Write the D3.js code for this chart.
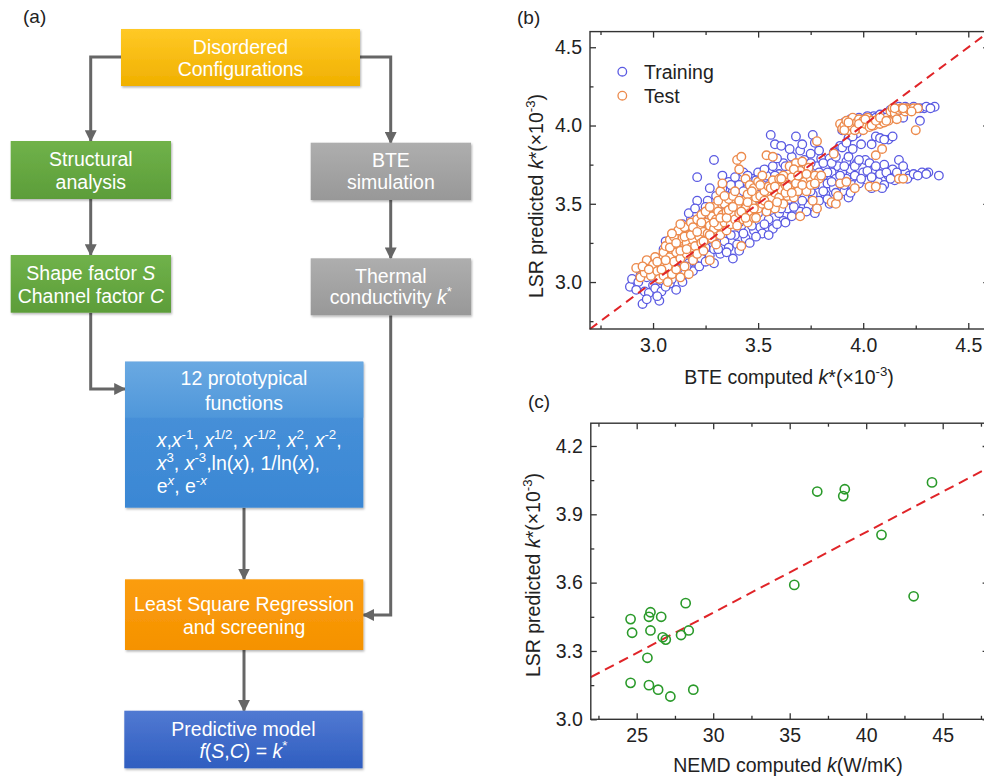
<!DOCTYPE html>
<html>
<head>
<meta charset="utf-8">
<script src="https://cdn.jsdelivr.net/npm/d3@7"></script>
<style>
  body { margin: 0; background: #fff; }
  svg text { font-family: "Liberation Sans", Arial, sans-serif; }
</style>
</head>
<body>
<div id="chart"></div>
<script>
// ---------- data ----------
// panel (b): BTE computed k* vs LSR predicted k* (x1e-3)
const trainPts = [
  [2.89,2.97],[2.90,3.02],[2.93,3.00],[2.95,2.86],[2.96,2.94],[2.97,3.03],[2.98,2.93],[2.99,3.07],[3.00,2.98],[3.00,3.10],
  [3.01,2.96],[3.02,3.04],[3.03,2.88],[3.04,2.94],[3.04,3.01],[3.05,3.21],[3.05,3.13],[3.06,3.08],[3.07,3.17],[3.08,2.99],
  [3.08,3.24],[3.09,3.10],[3.10,3.04],[3.10,3.20],[3.11,2.95],[3.12,3.14],[3.12,3.27],
  [3.13,3.08],[3.13,3.32],[3.14,3.19],[3.15,3.05],[3.15,3.24],[3.16,3.35],[3.17,3.12],[3.17,3.29],[3.18,3.18],[3.18,3.40],
  [3.19,3.07],[3.19,3.24],[3.20,3.33],[3.20,3.13],[3.21,3.67],[3.21,3.52],[3.21,3.28],
  [3.22,3.20],[3.22,3.38],[3.23,3.15],[3.24,3.44],[3.24,3.29],[3.25,3.22],[3.26,3.52],[3.26,3.35],[3.27,3.17],[3.27,3.42],
  [3.28,3.27],[3.28,3.48],[3.29,3.78],[3.29,3.21],[3.30,3.38],[3.30,3.55],[3.31,3.30],
  [3.32,3.18],[3.32,3.45],[3.33,3.60],[3.34,3.26],[3.34,3.51],[3.35,3.37],[3.36,3.64],[3.36,3.22],[3.37,3.44],[3.38,3.15],
  [3.38,3.58],[3.39,3.30],[3.39,3.67],[3.40,3.48],[3.40,3.24],[3.41,3.62],
  [3.42,3.36],[3.42,3.55],[3.43,3.70],[3.44,3.28],[3.44,3.45],[3.45,3.60],[3.46,3.25],[3.46,3.40],[3.47,3.66],[3.48,3.52],
  [3.48,3.33],[3.49,3.58],[3.50,3.44],[3.50,3.70],[3.51,3.35],
  [3.52,3.31],[3.52,3.62],[3.53,3.48],[3.54,3.68],[3.55,3.40],[3.55,3.57],[3.56,3.94],[3.57,3.34],[3.57,3.74],[3.58,3.50],
  [3.58,3.88],[3.59,3.63],[3.60,3.44],[3.60,3.69],[3.61,3.87],[3.61,3.55],
  [3.62,3.39],[3.62,3.76],[3.63,3.61],[3.64,3.47],[3.64,3.70],[3.65,3.53],[3.66,3.80],[3.66,3.42],[3.67,3.64],[3.68,3.93],
  [3.68,3.50],[3.69,3.73],[3.69,3.58],[3.70,3.45],[3.70,3.84],[3.71,3.66],
  [3.72,3.54],[3.72,3.78],[3.73,3.60],[3.74,3.49],[3.74,3.71],[3.75,3.82],[3.76,3.94],[3.76,3.56],[3.77,3.44],[3.77,3.89],
  [3.78,3.65],[3.78,3.74],[3.79,3.52],[3.80,3.62],[3.80,3.79],
  [3.81,3.68],[3.82,3.56],[3.82,3.74],[3.83,3.63],[3.84,3.79],[3.84,3.50],[3.85,3.70],[3.86,3.60],[3.86,3.83],[3.87,3.66],
  [3.88,3.74],[3.88,3.55],[3.89,3.87],[3.89,3.63],[3.90,3.70],[3.90,3.97],
  [3.91,4.02],[3.91,3.58],[3.92,3.77],[3.92,3.66],[3.93,3.54],[3.93,3.92],[3.94,4.04],[3.94,3.72],[3.95,3.85],[3.95,3.62],
  [3.96,4.01],[3.96,3.68],[3.97,3.95],[3.97,3.76],[3.98,4.05],[3.98,3.63],[3.99,3.88],[4.00,3.99],[4.00,3.70],
  [4.01,4.04],[4.01,3.78],[4.02,3.65],[4.03,3.76],[4.03,4.02],[4.04,3.60],[4.05,4.06],[4.05,3.72],[4.06,3.93],[4.07,3.64],
  [4.07,4.03],[4.08,3.92],[4.08,3.69],[4.09,4.05],[4.10,3.75],[4.10,3.62],
  [4.11,4.08],[4.12,3.91],[4.12,3.68],[4.13,4.10],[4.14,3.72],[4.15,4.06],[4.15,3.65],[4.16,4.11],[4.17,3.78],[4.18,4.09],
  [4.18,3.67],[4.19,4.05],[4.20,4.12],[4.20,3.70],
  [4.22,3.68],[4.23,4.10],[4.25,4.11],[4.27,4.03],[4.28,3.70],[4.29,4.11],[4.31,3.70],[4.34,4.12],[4.36,3.68],
  // second pass, filling the cloud
  [2.92,2.95],[2.94,3.04],[2.97,2.89],[3.01,3.06],[3.02,2.91],[3.03,3.15],[3.06,2.97],[3.06,3.26],[3.09,3.02],[3.11,3.30],
  [3.14,3.00],[3.14,3.37],[3.16,3.10],[3.17,3.44],[3.19,3.20],[3.20,3.47],[3.22,3.10],[3.23,3.33],[3.25,3.48],[3.25,3.13],
  [3.27,3.60],[3.28,3.36],[3.29,3.12],[3.31,3.49],[3.31,3.21],[3.33,3.34],[3.33,3.68],[3.35,3.55],[3.35,3.19],[3.37,3.30],
  [3.37,3.62],[3.39,3.52],[3.41,3.38],[3.41,3.20],[3.43,3.58],[3.43,3.31],[3.45,3.50],[3.45,3.68],[3.47,3.36],[3.47,3.55],
  [3.49,3.29],[3.49,3.65],[3.51,3.49],[3.51,3.61],[3.53,3.37],[3.53,3.72],[3.55,3.30],[3.56,3.63],[3.56,3.46],[3.58,3.68],
  [3.59,3.37],[3.59,3.79],[3.61,3.47],[3.63,3.74],[3.63,3.38],[3.65,3.66],[3.65,3.85],[3.67,3.48],[3.67,3.75],[3.69,3.66],
  [3.71,3.52],[3.71,3.88],[3.73,3.68],[3.73,3.45],[3.75,3.58],[3.75,3.76],[3.77,3.62],[3.79,3.70],[3.79,3.84],[3.81,3.58],
  [3.81,3.76],[3.83,3.70],[3.83,3.53],[3.85,3.64],[3.85,3.76],[3.87,3.57],[3.87,3.80],[3.89,3.68],[3.91,3.74],[3.91,3.62],
  [3.93,3.80],[3.94,3.57],[3.96,3.74],[3.98,3.78],[3.99,3.66],[4.02,3.71],[4.04,3.67],[4.06,3.74],[4.09,3.60],[4.11,3.70],
  [4.13,3.66],[4.16,3.70],[4.19,3.74],[4.21,3.66],[4.24,3.69],[4.26,3.68],[4.30,3.69],
  [3.90,4.00],[3.93,4.03],[3.96,4.04],[3.99,4.03],[4.02,4.06],[4.04,4.04],[4.06,4.05],[4.08,4.07],[4.11,4.05],[4.14,4.09],
  [4.17,4.12],[4.19,4.10],[4.21,4.11],[4.24,4.12],[4.27,4.11],[4.30,4.12],[4.32,4.11],
  [3.90,3.86],[3.92,3.89],[3.95,3.93],[4.04,3.88],[4.10,3.91],[4.14,3.93]
];
const testPts = [
  [2.92,3.09],[2.94,3.03],[2.96,3.06],[2.97,3.14],[2.99,3.04],[3.00,3.11],
  [3.01,3.16],[3.02,3.07],[3.03,3.02],[3.04,3.12],[3.05,3.19],[3.05,3.04],[3.06,3.23],[3.07,3.00],[3.07,3.10],[3.08,3.27],
  [3.08,3.16],[3.09,3.05],[3.09,3.21],[3.10,3.13],[3.10,3.29],
  [3.11,3.19],[3.11,3.08],[3.12,3.24],[3.12,3.33],[3.13,3.03],[3.13,3.15],[3.14,3.28],[3.14,3.21],[3.15,3.10],[3.15,3.35],
  [3.16,3.25],[3.16,3.18],[3.17,3.30],[3.17,3.05],[3.18,3.22],[3.18,3.38],[3.19,3.27],[3.19,3.14],[3.20,3.32],[3.20,3.23],
  [3.21,3.40],[3.21,3.18],[3.22,3.29],[3.22,3.35],[3.23,3.25],[3.23,3.43],[3.24,3.32],[3.24,3.20],[3.25,3.38],[3.25,3.27],
  [3.26,3.45],[3.26,3.31],[3.27,3.14],[3.27,3.36],[3.28,3.42],[3.28,3.28],[3.29,3.48],[3.29,3.34],[3.30,3.40],[3.30,3.24],
  [3.31,3.45],[3.31,3.36],[3.32,3.58],[3.32,3.30],[3.33,3.63],[3.33,3.43],[3.34,3.50],[3.34,3.38],[3.35,3.45],[3.35,3.33],
  [3.36,3.41],[3.36,3.53],[3.37,3.47],[3.37,3.37],[3.38,3.43],[3.38,3.55],[3.39,3.40],[3.40,3.78],[3.40,3.49],[3.40,3.36],
  [3.41,3.44],[3.41,3.72],[3.42,3.80],[3.42,3.23],[3.43,3.52],[3.43,3.40],[3.44,3.66],[3.44,3.47],[3.45,3.38],[3.45,3.56],
  [3.46,3.62],[3.46,3.44],[3.47,3.50],[3.48,3.41],[3.48,3.60],[3.49,3.54],[3.50,3.47],[3.50,3.64],
  [3.51,3.55],[3.52,3.50],[3.52,3.68],[3.53,3.58],[3.54,3.81],[3.54,3.45],[3.55,3.61],[3.56,3.53],[3.57,3.80],[3.57,3.65],
  [3.58,3.57],[3.58,3.47],[3.59,3.61],[3.60,3.54],[3.60,3.66],
  [3.61,3.59],[3.62,3.50],[3.62,3.68],[3.63,3.62],[3.64,3.55],[3.65,3.74],[3.65,3.60],[3.66,3.67],[3.67,3.54],[3.68,3.76],
  [3.68,3.63],[3.69,3.58],[3.70,3.42],[3.70,3.71],
  [3.71,3.77],[3.72,3.64],[3.73,3.58],[3.74,3.73],[3.75,3.66],[3.76,3.52],[3.77,3.68],[3.78,3.90],[3.78,3.47],[3.79,3.66],
  [3.85,3.51],[3.86,3.82],[3.87,3.50],[3.88,3.55],[3.89,3.63],[3.89,4.01],[3.90,3.98],
  [3.91,4.00],[3.92,4.03],[3.92,3.64],[3.93,3.97],[3.94,4.01],[3.95,3.99],[3.95,4.05],[3.96,3.60],[3.97,4.02],[3.97,3.98],
  [3.98,4.04],[3.99,4.00],[4.00,4.03],[4.00,3.97],
  [4.01,4.01],[4.02,4.05],[4.03,3.99],[4.03,3.61],[4.04,4.03],[4.05,4.00],[4.06,3.61],[4.06,3.81],[4.07,4.04],[4.08,4.01],
  [4.09,3.85],[4.09,4.03],[4.10,4.02],
  [4.12,4.03],[4.13,4.09],[4.14,4.11],[4.15,4.08],[4.16,4.04],[4.17,3.66],[4.17,4.10],[4.18,4.11],[4.19,3.66],[4.20,4.09],
  [4.21,4.11],[4.22,4.10],[4.24,4.11],[4.25,3.97],[4.26,4.11],
  // second pass
  [2.95,3.10],[2.98,3.08],[3.02,3.13],[3.04,3.08],[3.06,3.14],[3.08,3.22],[3.09,3.31],[3.11,3.25],[3.13,3.20],[3.13,3.37],
  [3.15,3.29],[3.16,3.21],[3.18,3.30],[3.19,3.35],[3.21,3.32],[3.23,3.38],[3.24,3.26],[3.25,3.45],[3.27,3.30],[3.27,3.48],
  [3.29,3.38],[3.31,3.52],[3.32,3.41],[3.34,3.55],[3.35,3.41],[3.36,3.46],[3.38,3.48],[3.39,3.58],[3.41,3.52],[3.42,3.45],
  [3.44,3.41],[3.45,3.51],[3.47,3.58],[3.48,3.47],[3.49,3.41],[3.51,3.62],[3.53,3.52],[3.55,3.49],[3.56,3.60],[3.58,3.61],
  [3.59,3.51],[3.61,3.66],[3.63,3.57],[3.64,3.61],[3.66,3.57],[3.67,3.72],[3.69,3.68],[3.71,3.62],[3.73,3.69],[3.75,3.62],
  [3.77,3.63],[3.80,3.68],
  [3.91,3.97],[3.93,4.02],[3.96,3.97],[3.98,4.01],[4.01,4.04],[4.04,4.00],[4.06,4.03],[4.08,4.05],[4.11,4.03],[4.15,4.11],
  [4.19,4.11],[4.23,4.09]
];
const legendLabels = ["Training", "Test"];
const refLineB = [[2.7, 2.7], [4.6, 4.6]];
const bTicks = [3.0, 3.5, 4.0, 4.5];
const bMinor = [2.75, 3.25, 3.75, 4.25];

// panel (c): NEMD computed k vs LSR predicted k*
const nemdK = [24.6, 24.7, 24.6, 25.7, 25.8, 25.9, 25.9, 25.8, 26.4, 26.6, 26.7, 26.9, 27.2, 27.9, 28.4, 28.2, 28.7,
               35.3, 36.8, 38.6, 38.5, 41.0, 43.1, 44.3];
const lsrK  = [3.44, 3.38, 3.16, 3.27, 3.45, 3.47, 3.39, 3.15, 3.13, 3.45, 3.36, 3.35, 3.10, 3.37, 3.39, 3.51, 3.13,
               3.59, 4.00, 4.01, 3.98, 3.81, 3.54, 4.04];
const fitLineC = [[22, 3.185], [48, 4.105]];
const cXTicks = [25, 30, 35, 40, 45];
const cXMinor = [22.5, 27.5, 32.5, 37.5, 42.5, 47.5];
const cYTicks = [3.0, 3.3, 3.6, 3.9, 4.2];
const cYMinor = [3.15, 3.45, 3.75, 4.05];

// ---------- svg ----------
const W = 984, H = 778;
const svg = d3.select("#chart").append("svg")
  .attr("width", W).attr("height", H)
  .style("display", "block");

const defs = svg.append("defs");
const shadow = defs.append("filter").attr("id", "shadow")
  .attr("x", "-10%").attr("y", "-10%").attr("width", "125%").attr("height", "130%");
shadow.append("feDropShadow").attr("dx", 1).attr("dy", 1.5)
  .attr("stdDeviation", 1.2).attr("flood-color", "#000").attr("flood-opacity", 0.3);

function grad(id, c0, c1) {
  const g = defs.append("linearGradient").attr("id", id)
    .attr("x1", 0).attr("y1", 0).attr("x2", 0).attr("y2", 1);
  g.append("stop").attr("offset", "0%").attr("stop-color", c0);
  g.append("stop").attr("offset", "100%").attr("stop-color", c1);
}

// rich text: segments {t, i (italic), sup}
function rich(textSel, segs, fs) {
  let shift = 0;
  segs.forEach(s => {
    const ts = textSel.append("tspan").text(s.t);
    if (s.i) ts.attr("font-style", "italic");
    const want = s.sup ? -fs * 0.4 : 0;
    if (want !== shift) { ts.attr("dy", want - shift); shift = want; }
    if (s.sup) ts.attr("font-size", fs * 0.68);
  });
}

// ---------- (a) flow chart ----------
const fs = 19.5;
const arrowCol = "#666";
defs.append("marker").attr("id", "arr")
  .attr("viewBox", "0 0 10 10").attr("refX", 9).attr("refY", 5)
  .attr("markerWidth", 4).attr("markerHeight", 4)
  .attr("markerUnits", "strokeWidth").attr("orient", "auto")
  .append("path").attr("d", "M0,0L10,5L0,10z").attr("fill", arrowCol);

const boxes = [
  { x: 121, y: 29, w: 239, h: 57, g: ["#ffc926", "#f0b000"],
    lines: [[54, [{t: "Disordered"}]], [75.5, [{t: "Configurations"}]]] },
  { x: 10.7, y: 141, w: 160.3, h: 58, g: ["#70b24a", "#5c9d39"],
    lines: [[165.5, [{t: "Structural"}]], [188.5, [{t: "analysis"}]]] },
  { x: 310.7, y: 142.7, w: 160.3, h: 57.3, g: ["#aeaeae", "#989898"],
    lines: [[166.5, [{t: "BTE"}]], [189, [{t: "simulation"}]]] },
  { x: 10.7, y: 255, w: 160.3, h: 57.7, g: ["#70b24a", "#5c9d39"],
    lines: [[280, [{t: "Shape factor "}, {t: "S", i: 1}]], [303, [{t: "Channel factor "}, {t: "C", i: 1}]]] },
  { x: 310.7, y: 258.3, w: 160.3, h: 57, g: ["#aeaeae", "#989898"],
    lines: [[282.5, [{t: "Thermal"}]], [304, [{t: "conductivity "}, {t: "k", i: 1}, {t: "*", sup: 1}]]] },
  { x: 125, y: 361.7, w: 238.3, h: 146, g: ["#4d94da", "#3a87d4"], lines: [] },
  { x: 125, y: 579.3, w: 238.3, h: 70.7, g: ["#fb9d10", "#f59200"],
    lines: [[610.7, [{t: "Least Square Regression"}]], [633.6, [{t: "and screening"}]]] },
  { x: 124.3, y: 710.7, w: 238.3, h: 57.6, g: ["#5179d2", "#2f5ec0"],
    lines: [[735.5, [{t: "Predictive model"}]],
            [758, [{t: "f", i: 1}, {t: "("}, {t: "S", i: 1}, {t: ","}, {t: "C", i: 1}, {t: ") = "}, {t: "k", i: 1}, {t: "*", sup: 1}]]] }
];

const flow = svg.append("g");

// connectors
const conns = [
  [[121, 57], [90.7, 57], [90.7, 141]],
  [[360, 57], [390.7, 57], [390.7, 142.7]],
  [[90.7, 199], [90.7, 255]],
  [[390.7, 200], [390.7, 258.3]],
  [[90.7, 312.7], [90.7, 389], [125, 389]],
  [[390.7, 315.3], [390.7, 615], [363.3, 615]],
  [[244, 507.7], [244, 579.3]],
  [[244, 650], [244, 710.7]]
];
flow.selectAll("path.conn").data(conns).join("path")
  .attr("class", "conn")
  .attr("d", d3.line())
  .attr("fill", "none").attr("stroke", arrowCol).attr("stroke-width", 3)
  .attr("marker-end", "url(#arr)");

boxes.forEach((b, i) => {
  grad("bg" + i, b.g[0], b.g[1]);
  flow.append("rect").attr("x", b.x).attr("y", b.y).attr("width", b.w).attr("height", b.h)
    .attr("fill", `url(#bg${i})`).attr("filter", "url(#shadow)");
  b.lines.forEach(([yy, segs]) => {
    const t = flow.append("text").attr("x", b.x + b.w / 2).attr("y", yy)
      .attr("text-anchor", "middle").attr("fill", "#fff").attr("font-size", fs);
    rich(t, segs, fs);
  });
});

// header band of the prototype-function box
grad("hdr", "#6aa9e2", "#4f97da");
flow.append("rect").attr("x", 125).attr("y", 361.7).attr("width", 238.3).attr("height", 56)
  .attr("fill", "url(#hdr)");
[[385.3, "12 prototypical"], [410, "functions"]].forEach(([yy, s]) => {
  flow.append("text").attr("x", 244).attr("y", yy).attr("text-anchor", "middle")
    .attr("fill", "#fff").attr("font-size", fs).text(s);
});

const fnLines = [
  [446.7, [{t: "x", i: 1}, {t: ","}, {t: "x", i: 1}, {t: "-1", sup: 1}, {t: ", "}, {t: "x", i: 1}, {t: "1/2", sup: 1},
           {t: ", "}, {t: "x", i: 1}, {t: "-1/2", sup: 1}, {t: ", "}, {t: "x", i: 1}, {t: "2", sup: 1},
           {t: ", "}, {t: "x", i: 1}, {t: "-2", sup: 1}, {t: ","}]],
  [470, [{t: "x", i: 1}, {t: "3", sup: 1}, {t: ", "}, {t: "x", i: 1}, {t: "-3", sup: 1}, {t: ",ln("}, {t: "x", i: 1},
         {t: "), 1/ln("}, {t: "x", i: 1}, {t: "),"}]],
  [493, [{t: "e"}, {t: "x", i: 1, sup: 1}, {t: ", e"}, {t: "-", sup: 1}, {t: "x", i: 1, sup: 1}]]
];
fnLines.forEach(([yy, segs]) => {
  const t = flow.append("text").attr("x", 156.7).attr("y", yy)
    .attr("fill", "#fff").attr("font-size", fs);
  rich(t, segs, fs);
});

// panel labels
[["(a)", 23, 23], ["(b)", 517, 24], ["(c)", 528, 408]].forEach(([s, x, y]) => {
  svg.append("text").attr("x", x).attr("y", y).attr("font-size", 19)
    .attr("fill", "#222").text(s);
});

// ---------- shared axis frame ----------
function frame(g, x, y, xt, xm, yt, ym) {
  const [x0, x1] = x.range();
  const [y0, y1] = y.range();
  const fmt = d3.format(".1f");
  const major = 6, minor = 3.5;
  const add = (ax, tr) => g.append("g").attr("transform", tr).call(ax);
  const xF = x.domain()[1] > 10 ? d3.format("d") : fmt;
  add(d3.axisBottom(x).tickValues(xt).tickFormat(xF).tickSize(-major).tickPadding(9), `translate(0,${y0})`);
  add(d3.axisBottom(x).tickValues(xm).tickFormat("").tickSize(-minor), `translate(0,${y0})`);
  add(d3.axisTop(x).tickValues(xt).tickFormat("").tickSize(-major), `translate(0,${y1})`);
  add(d3.axisTop(x).tickValues(xm).tickFormat("").tickSize(-minor), `translate(0,${y1})`);
  add(d3.axisLeft(y).tickValues(yt).tickFormat(fmt).tickSize(-major).tickPadding(8), `translate(${x0},0)`);
  add(d3.axisLeft(y).tickValues(ym).tickFormat("").tickSize(-minor), `translate(${x0},0)`);
  add(d3.axisRight(y).tickValues(yt).tickFormat("").tickSize(-major), `translate(${x1},0)`);
  add(d3.axisRight(y).tickValues(ym).tickFormat("").tickSize(-minor), `translate(${x1},0)`);
  g.selectAll(".domain").remove();
  g.selectAll(".tick line").attr("stroke", "#333").attr("stroke-width", 1.3);
  g.selectAll(".tick text").attr("font-size", 19.5).attr("fill", "#222")
    .attr("font-family", '"Liberation Sans", Arial, sans-serif');
  g.append("rect").attr("x", x0).attr("y", y1).attr("width", x1 - x0).attr("height", y0 - y1)
    .attr("fill", "none").attr("stroke", "#333").attr("stroke-width", 1.4);
}

const axisTitle = (segs, x, y, rot) => {
  const t = svg.append("text").attr("text-anchor", "middle").attr("font-size", 19.5).attr("fill", "#222")
    .attr("transform", `translate(${x},${y})` + (rot ? " rotate(-90)" : ""));
  rich(t, segs, 19.5);
};
const kStar = [{t: "k", i: 1}, {t: "*(\u00d710"}, {t: "-3", sup: 1}, {t: ")"}];

// ---------- (b) ----------
const xb = d3.scaleLinear().domain([2.7, 4.6]).range([590, 989.3]);
const yb = d3.scaleLinear().domain([2.7, 4.6]).range([329, 31.6]);
const gb = svg.append("g");

gb.append("g").selectAll("circle").data(trainPts).join("circle")
  .attr("cx", d => xb(d[0])).attr("cy", d => yb(d[1])).attr("r", 4.3)
  .attr("fill", "#fff").attr("stroke", "#5a5ae2").attr("stroke-width", 1.3);
gb.append("g").selectAll("circle").data(testPts).join("circle")
  .attr("cx", d => xb(d[0])).attr("cy", d => yb(d[1])).attr("r", 4.3)
  .attr("fill", "#fff").attr("stroke", "#ec8a4c").attr("stroke-width", 1.4);

gb.append("path").datum(refLineB)
  .attr("d", d3.line().x(d => xb(d[0])).y(d => yb(d[1])))
  .attr("stroke", "#e02428").attr("stroke-width", 2).attr("stroke-dasharray", "9,6").attr("fill", "none");

frame(gb, xb, yb, bTicks, bMinor, bTicks, bMinor);

const legCols = ["#5a5ae2", "#ec8a4c"];
legendLabels.forEach((s, i) => {
  const yy = 71.7 + i * 24;
  gb.append("circle").attr("cx", 622.3).attr("cy", yy).attr("r", 4.3)
    .attr("fill", "#fff").attr("stroke", legCols[i]).attr("stroke-width", 1.3);
  gb.append("text").attr("x", 644).attr("y", yy + 7).attr("font-size", 19.5).attr("fill", "#222").text(s);
});

axisTitle([{t: "LSR predicted "}].concat(kStar), 543, 196, true);
axisTitle([{t: "BTE computed "}].concat(kStar), 789, 384, false);

// ---------- (c) ----------
const xc = d3.scaleLinear().domain([22, 48]).range([590.8, 988.6]);
const yc = d3.scaleLinear().domain([3.0, 4.3]).range([719.3, 423.2]);
const gc = svg.append("g");

gc.append("path").datum(fitLineC)
  .attr("d", d3.line().x(d => xc(d[0])).y(d => yc(d[1])))
  .attr("stroke", "#e02428").attr("stroke-width", 2).attr("stroke-dasharray", "10,6").attr("fill", "none");

gc.append("g").selectAll("circle").data(nemdK).join("circle")
  .attr("cx", d => xc(d)).attr("cy", (d, i) => yc(lsrK[i])).attr("r", 4.6)
  .attr("fill", "none").attr("stroke", "#2a9a2a").attr("stroke-width", 1.6);

frame(gc, xc, yc, cXTicks, cXMinor, cYTicks, cYMinor);

axisTitle([{t: "LSR predicted "}].concat(kStar), 540, 575, true);
axisTitle([{t: "NEMD computed "}, {t: "k", i: 1}, {t: "(W/mK)"}], 788, 772, false);
</script>
</body>
</html>
